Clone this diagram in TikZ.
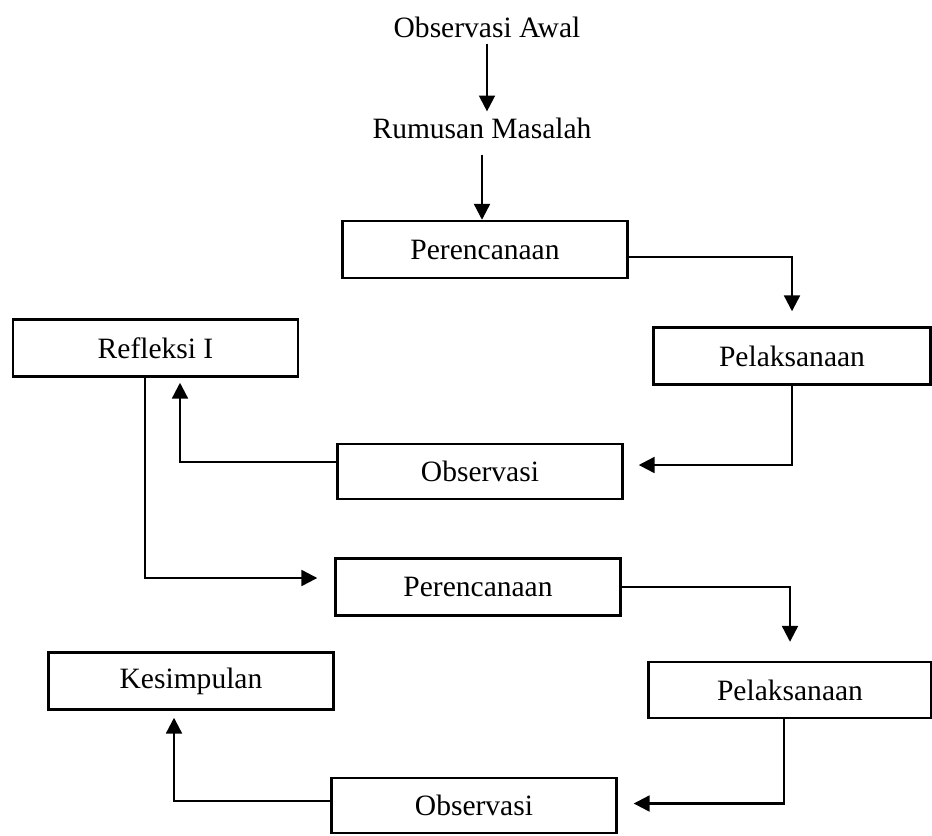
\documentclass[tikz,border=0pt]{standalone}
\usepackage{fontspec}
\setmainfont{Liberation Serif}
\usepackage{tikz}
\usetikzlibrary{arrows.meta}
\tikzset{
	kotak/.style={rectangle, minimum width=5.7cm, minimum height=1.14cm, text centered, draw=black, line width=1.4pt},
	judul/.style={rectangle, text centered},
	panah/.style={line width=1.3pt, -{Triangle[length=9pt,width=9pt]}}
}
\usetikzlibrary{positioning}

\begin{document}
\begin{tikzpicture}[x=0.02cm, y=-0.02cm, font=\fontsize{16.8}{20}\selectfont]
		\useasboundingbox (0,0) rectangle (932,835);
		
		% Judul
		\node[judul] (awal) at (487,27) {Observasi Awal};
		\node[judul] (rumusan) at (482,128) {Rumusan Masalah};
		
		% Siklus I
		\node[kotak] (per1) at (485,249.5) {Perencanaan};
		\node[kotak, minimum width=5.54cm] (pel1) at (792,356) {Pelaksanaan};
		\node[kotak, minimum height=1.1cm] (obs1) at (480,471.5) {Observasi};
		\node[kotak] (ref) at (155.5,348) {Refleksi I};
		
		% Siklus II
		\node[kotak] (per2) at (478,587) {Perencanaan};
		\node[kotak, minimum width=5.66cm, minimum height=1.12cm] (pel2) at (790,690) {Pelaksanaan};
		\node[kotak, minimum height=1.1cm] (obs2) at (474,805.5) {Observasi};
		\node[kotak] (kes) at (191,681) {Kesimpulan};
		
		% Panah
		\draw[panah] (awal.south) -- (awal.south |- rumusan.north);
		\draw[panah, shorten <=0.2cm] (rumusan.south) -- (rumusan.south |- per1.north);
		\draw[panah, shorten >=0.3cm] ([yshift=-0.15cm]per1.east) -| (pel1.north);
		\draw[panah, shorten >=0.3cm] (pel1.south) |- ([yshift=0.13cm]obs1.east);
		\draw[panah, shorten >=0.1cm] ([yshift=0.19cm]obs1.west) -| ([xshift=0.49cm]ref.south);
		\draw[panah, shorten >=0.34cm] ([xshift=-0.21cm]ref.south) |- ([yshift=0.18cm]per2.west);
		\draw[panah, shorten >=0.38cm] (per2.east) -| (pel2.north);
		\draw[panah, shorten >=0.32cm] ([xshift=-0.12cm]pel2.south) |- ([yshift=0.04cm]obs2.east);
		\draw[panah, shorten >=0.14cm] ([yshift=0.09cm]obs2.west) -| ([xshift=-0.34cm]kes.south);
		
	\end{tikzpicture}
\end{document}
